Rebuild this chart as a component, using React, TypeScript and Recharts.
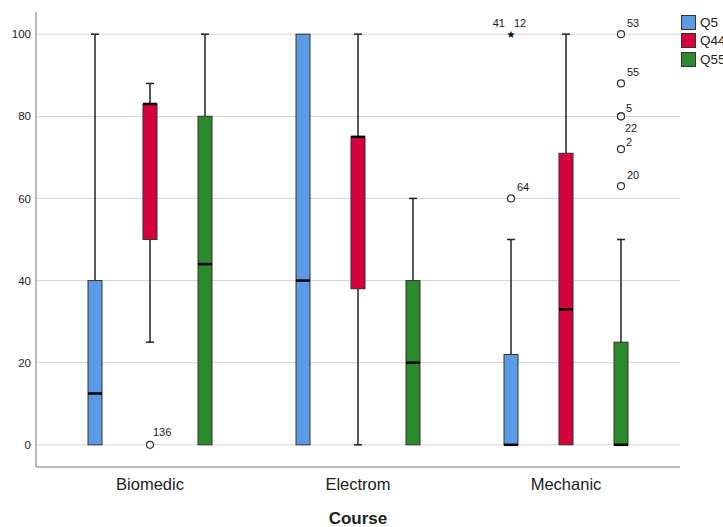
import { ComposedChart, Bar, XAxis, YAxis, CartesianGrid } from 'recharts';

const categories = ['Biomedic', 'Electrom', 'Mechanic'];

// five-number summaries per course: [min, q1, median, q3, max]
const q5Box = [
  [0, 0, 12.5, 40, 100],
  [0, 0, 40, 100, 100],
  [0, 0, 0, 22, 50],
];
const q44Box = [
  [25, 50, 83, 83, 88],
  [0, 38, 75, 75, 100],
  [0, 0, 33, 71, 100],
];
const q55Box = [
  [0, 0, 44, 80, 100],
  [0, 0, 20, 40, 60],
  [0, 0, 0, 25, 50],
];

interface Outlier {
  v: number;
  id: string;
  extreme?: boolean;
}

const q5Outliers: Outlier[][] = [
  [],
  [],
  [
    { v: 60, id: '64' },
    { v: 100, id: '41 12', extreme: true },
  ],
];
const q44Outliers: Outlier[][] = [[{ v: 0, id: '136' }], [], []];
const q55Outliers: Outlier[][] = [
  [],
  [],
  [
    { v: 100, id: '53' },
    { v: 88, id: '55' },
    { v: 80, id: '5' },
    { v: 80, id: '22' },
    { v: 72, id: '2' },
    { v: 63, id: '20' },
  ],
];

const yTicks = [0, 20, 40, 60, 80, 100];

const series = [
  { key: 'q5', name: 'Q5', color: '#5b9be5', box: q5Box, out: q5Outliers },
  { key: 'q44', name: 'Q44', color: '#d6003a', box: q44Box, out: q44Outliers },
  { key: 'q55', name: 'Q55', color: '#2b8a2b', box: q55Box, out: q55Outliers },
];

const data = categories.map((course, i) => {
  const row: any = { course };
  series.forEach((s) => {
    const stats = s.box[i];
    const vals = [stats[0], stats[4], ...s.out[i].map((o) => o.v)];
    row[s.key] = stats;
    row[s.key + 'Out'] = s.out[i];
    row[s.key + 'Range'] = [Math.min(...vals), Math.max(...vals)];
  });
  return row;
});

const FONT = '"Liberation Sans", Arial, sans-serif';

// where each case-number label sits next to its point
const labelOffset = (id: string) => {
  if (id === '22') return { dx: 4, dy: 16 };
  if (id === '136') return { dx: 3, dy: -9 };
  if (id === '5') return { dx: 5, dy: -4 };
  if (id === '2') return { dx: 5, dy: -3 };
  return { dx: 6, dy: -7 };
};

const makeBox = (key: string, color: string) => (props: any) => {
  const { x, y, width, height, payload } = props;
  const stats: number[] = payload[key];
  const outs: Outlier[] = payload[key + 'Out'];
  const [lo, hi] = payload[key + 'Range'];
  const toY = (v: number) => y + height - ((v - lo) / (hi - lo)) * height;
  const cx = x + width / 2;
  const [mn, q1, med, q3, mx] = stats;
  return (
    <g>
      {mx > q3 && (
        <>
          <line x1={cx} x2={cx} y1={toY(mx)} y2={toY(q3)} stroke="#222" strokeWidth={1.5} />
          <line x1={cx - 4} x2={cx + 4} y1={toY(mx)} y2={toY(mx)} stroke="#222" strokeWidth={1.5} />
        </>
      )}
      {mn < q1 && (
        <>
          <line x1={cx} x2={cx} y1={toY(q1)} y2={toY(mn)} stroke="#222" strokeWidth={1.5} />
          <line x1={cx - 4} x2={cx + 4} y1={toY(mn)} y2={toY(mn)} stroke="#222" strokeWidth={1.5} />
        </>
      )}
      <rect
        x={x}
        y={toY(q3)}
        width={width}
        height={Math.max(toY(q1) - toY(q3), 0)}
        fill={color}
        stroke="#333"
        strokeWidth={1}
      />
      <line x1={x} x2={x + width} y1={toY(med)} y2={toY(med)} stroke="#000" strokeWidth={2.5} />
      {outs.map((o, i) => {
        const oy = toY(o.v);
        if (o.extreme) {
          const parts = o.id.split(' ');
          return (
            <g key={i}>
              <text x={cx} y={oy + 4} textAnchor="middle" fontSize={10} fill="#000" fontFamily="DejaVu Sans">
                ★
              </text>
              <text x={cx - 6} y={oy - 7} textAnchor="end" fontSize={11} fill="#222" fontFamily={FONT}>
                {parts[0]}
              </text>
              {parts[1] && (
                <text x={cx + 3} y={oy - 7} textAnchor="start" fontSize={11} fill="#222" fontFamily={FONT}>
                  {parts[1]}
                </text>
              )}
            </g>
          );
        }
        const off = labelOffset(o.id);
        return (
          <g key={i}>
            <circle cx={cx} cy={oy} r={3.5} fill="#fff" stroke="#333" strokeWidth={1.2} />
            <text x={cx + off.dx} y={oy + off.dy} fontSize={11} fill="#222" fontFamily={FONT}>
              {o.id}
            </text>
          </g>
        );
      })}
    </g>
  );
};

export default function App() {
  return (
    <div style={{ position: 'absolute', left: 0, top: 0, width: 723, height: 527, background: '#fff' }}>
      <ComposedChart
        width={723}
        height={527}
        data={data}
        margin={{ top: 12, right: 43, left: 0, bottom: 0 }}
        barSize={14}
        barGap={41}
      >
        <CartesianGrid vertical={false} horizontalValues={yTicks} fill="none" stroke="#d4d4d4" />
        <XAxis
          dataKey="course"
          height={60}
          padding={{ left: 10, right: 10 }}
          tickLine={false}
          tickSize={10}
          tickMargin={1}
          axisLine={{ stroke: '#777' }}
          tick={{ fill: '#222', fontSize: 16.5, fontFamily: FONT }}
          label={{
            value: 'Course',
            position: 'insideBottom',
            offset: 3,
            style: { fill: '#222', fontSize: 17, fontWeight: 'bold', fontFamily: FONT },
          }}
        />
        <YAxis
          width={36}
          domain={[-5.4, 105.4]}
          ticks={yTicks}
          tickLine={false}
          tickSize={3}
          tickMargin={2}
          axisLine={{ stroke: '#777' }}
          tick={{ fill: '#222', fontSize: 11.5, fontFamily: FONT }}
        />
        {series.map((s) => (
          <Bar
            key={s.key}
            dataKey={s.key + 'Range'}
            name={s.name}
            fill={s.color}
            isAnimationActive={false}
            shape={makeBox(s.key, s.color)}
          />
        ))}
      </ComposedChart>
      <div style={{ position: 'absolute', left: 681, top: 13, fontFamily: FONT, fontSize: 13.5, color: '#222' }}>
        {series.map((s) => (
          <div key={s.key} style={{ display: 'flex', alignItems: 'center', height: 18.5, whiteSpace: 'nowrap' }}>
            <span
              style={{
                display: 'inline-block',
                width: 13,
                height: 13,
                background: s.color,
                border: '1px solid #333',
                marginRight: 4,
              }}
            />
            {s.name}
          </div>
        ))}
      </div>
    </div>
  );
}
